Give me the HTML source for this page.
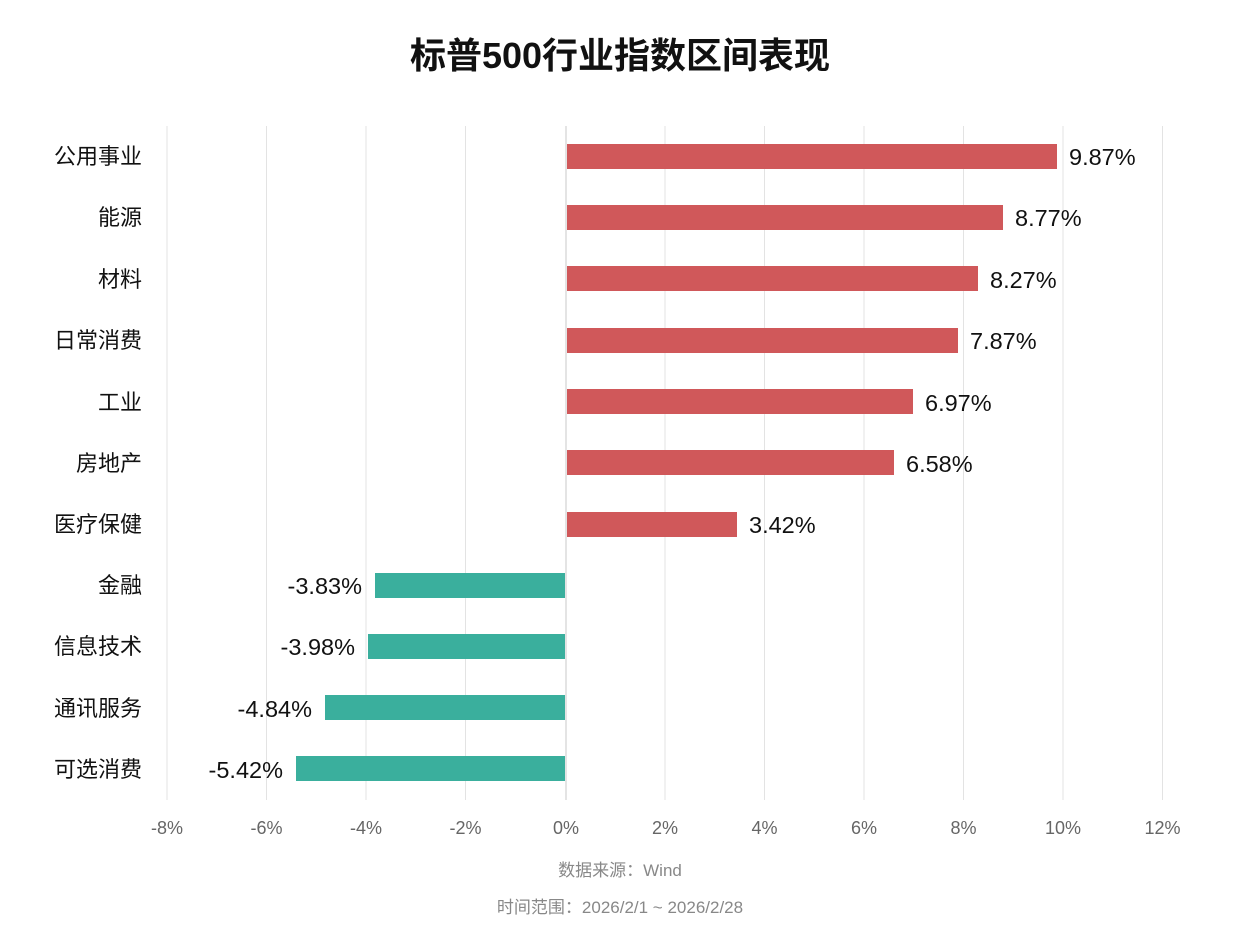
<!DOCTYPE html>
<html><head><meta charset="utf-8"><style>
body{margin:0;background:#fff}
svg{display:block}
text{font-family:"Liberation Sans","Noto Sans CJK SC",sans-serif}
</style></head><body>
<svg width="1252" height="940" viewBox="0 0 1252 940" xmlns="http://www.w3.org/2000/svg">
<rect width="1252" height="940" fill="#fff"/>
<text x="620" y="68" text-anchor="middle" font-size="36" font-weight="bold" fill="#111">标普500行业指数区间表现</text>
<g stroke="#e3e3e3" stroke-width="1">
<line x1="167" y1="126" x2="167" y2="800"/><line x1="266.5" y1="126" x2="266.5" y2="800"/>
<line x1="366" y1="126" x2="366" y2="800"/><line x1="465.5" y1="126" x2="465.5" y2="800"/>
<line x1="665" y1="126" x2="665" y2="800"/><line x1="764.5" y1="126" x2="764.5" y2="800"/>
<line x1="864" y1="126" x2="864" y2="800"/><line x1="963.5" y1="126" x2="963.5" y2="800"/>
<line x1="1063" y1="126" x2="1063" y2="800"/><line x1="1162.5" y1="126" x2="1162.5" y2="800"/>
</g>
<line x1="566" y1="126" x2="566" y2="800" stroke="#c8c8c8"/>
<g font-size="18" fill="#666" text-anchor="middle">
<text x="167" y="834">-8%</text><text x="266.5" y="834">-6%</text><text x="366" y="834">-4%</text><text x="465.5" y="834">-2%</text><text x="566" y="834">0%</text><text x="665" y="834">2%</text><text x="764.5" y="834">4%</text><text x="864" y="834">6%</text><text x="963.5" y="834">8%</text><text x="1063" y="834">10%</text><text x="1162.5" y="834">12%</text>
</g>
<g fill="#d0585a">
<rect x="567" y="144" width="490" height="25"/>
<rect x="567" y="205" width="436" height="25"/>
<rect x="567" y="266" width="411" height="25"/>
<rect x="567" y="328" width="391" height="25"/>
<rect x="567" y="389" width="346" height="25"/>
<rect x="567" y="450" width="327" height="25"/>
<rect x="567" y="512" width="170" height="25"/>
</g>
<g fill="#3aaf9d">
<rect x="375" y="573" width="190" height="25"/>
<rect x="368" y="634" width="197" height="25"/>
<rect x="325" y="695" width="240" height="25"/>
<rect x="296" y="756" width="269" height="25"/>
</g>
<g font-size="23.5" fill="#111">
<text x="1069" y="165">9.87%</text><text x="1015" y="226">8.77%</text><text x="990" y="288">8.27%</text><text x="970" y="349">7.87%</text><text x="925" y="411">6.97%</text><text x="906" y="472">6.58%</text><text x="749" y="533">3.42%</text>
</g>
<g font-size="23.5" fill="#111" text-anchor="end">
<text x="362" y="594">-3.83%</text><text x="355" y="655">-3.98%</text><text x="312" y="717">-4.84%</text><text x="283" y="778">-5.42%</text>
</g>
<g font-size="22" fill="#111" text-anchor="end">
<text x="142" y="164">公用事业</text><text x="142" y="225">能源</text><text x="142" y="287">材料</text><text x="142" y="348">日常消费</text><text x="142" y="410">工业</text><text x="142" y="471">房地产</text><text x="142" y="532">医疗保健</text><text x="142" y="593">金融</text><text x="142" y="654">信息技术</text><text x="142" y="716">通讯服务</text><text x="142" y="777">可选消费</text>
</g>
<text x="620" y="876" text-anchor="middle" font-size="17" fill="#888">数据来源：Wind</text>
<text x="620" y="913" text-anchor="middle" font-size="17" fill="#888">时间范围：2026/2/1 ~ 2026/2/28</text>
</svg>
</body></html>
